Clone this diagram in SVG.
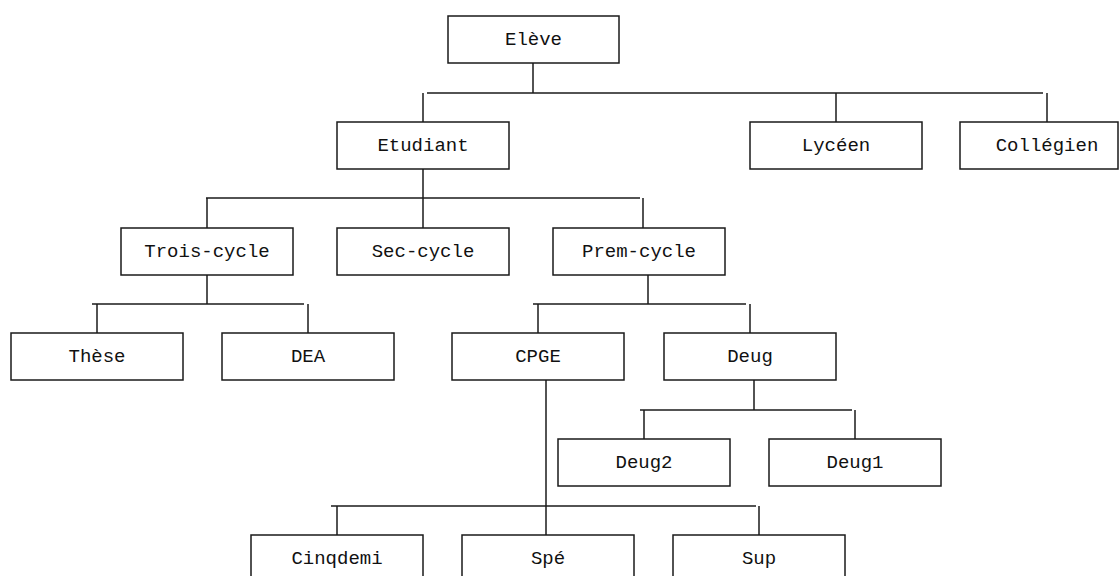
<svg xmlns="http://www.w3.org/2000/svg" width="1119" height="576" viewBox="0 0 1119 576">
  <style>
    .box rect { fill: #ffffff; stroke: #1a1a1a; stroke-width: 1.5; }
    .box text { font-family: "Liberation Mono", "Courier New", monospace; font-size: 19px; fill: #111111; text-anchor: middle; }
    #connectors path { fill: none; stroke: #1a1a1a; stroke-width: 1.5; }
  </style>
  <rect x="0" y="0" width="1119" height="576" fill="#ffffff"/>

  <!-- tree connectors: stems and sibling bars -->
  <g id="connectors">
    <path d="M533 63 V93"/>
    <path d="M427 93 H1043"/>
    <path d="M423 93 V122"/>
    <path d="M836 93 V122"/>
    <path d="M1047 93 V122"/>

    <path d="M423 169 V228"/>
    <path d="M206 198 H640"/>
    <path d="M207 198 V228"/>
    <path d="M643 198 V228"/>

    <path d="M207 275 V304"/>
    <path d="M92 304 H304"/>
    <path d="M97 304 V333"/>
    <path d="M308 304 V333"/>

    <path d="M648 275 V304"/>
    <path d="M533 304 H746"/>
    <path d="M538 304 V333"/>
    <path d="M750 304 V333"/>

    <path d="M546 380 V535"/>
    <path d="M754 380 V410"/>
    <path d="M640 410 H852"/>
    <path d="M644 410 V439"/>
    <path d="M855 410 V439"/>

    <path d="M331 506 H756"/>
    <path d="M337 506 V535"/>
    <path d="M759 506 V535"/>
  </g>

  <g id="eleve" class="box"><rect x="448" y="16" width="171" height="47"/><text x="533.5" y="45">Elève</text></g>

  <g id="etudiant" class="box"><rect x="337" y="122" width="172" height="47"/><text x="423" y="151">Etudiant</text></g>
  <g id="lyceen" class="box"><rect x="750" y="122" width="172" height="47"/><text x="836" y="151">Lycéen</text></g>
  <g id="collegien" class="box"><rect x="960" y="122" width="158" height="47"/><text x="1047" y="151">Collégien</text></g>

  <g id="trois-cycle" class="box"><rect x="121" y="228" width="172" height="47"/><text x="207" y="256.5">Trois-cycle</text></g>
  <g id="sec-cycle" class="box"><rect x="337" y="228" width="172" height="47"/><text x="423" y="256.5">Sec-cycle</text></g>
  <g id="prem-cycle" class="box"><rect x="553" y="228" width="172" height="47"/><text x="639" y="256.5">Prem-cycle</text></g>

  <g id="these" class="box"><rect x="11" y="333" width="172" height="47"/><text x="97" y="361.5">Thèse</text></g>
  <g id="dea" class="box"><rect x="222" y="333" width="172" height="47"/><text x="308" y="361.5">DEA</text></g>
  <g id="cpge" class="box"><rect x="452" y="333" width="172" height="47"/><text x="538" y="361.5">CPGE</text></g>
  <g id="deug" class="box"><rect x="664" y="333" width="172" height="47"/><text x="750" y="361.5">Deug</text></g>

  <g id="deug2" class="box"><rect x="558" y="439" width="172" height="47"/><text x="644" y="467.5">Deug2</text></g>
  <g id="deug1" class="box"><rect x="769" y="439" width="172" height="47"/><text x="855" y="467.5">Deug1</text></g>

  <g id="cinqdemi" class="box"><rect x="251" y="535" width="172" height="47"/><text x="337" y="564">Cinqdemi</text></g>
  <g id="spe" class="box"><rect x="462" y="535" width="172" height="47"/><text x="548" y="564">Spé</text></g>
  <g id="sup" class="box"><rect x="673" y="535" width="172" height="47"/><text x="759" y="564">Sup</text></g>
</svg>
